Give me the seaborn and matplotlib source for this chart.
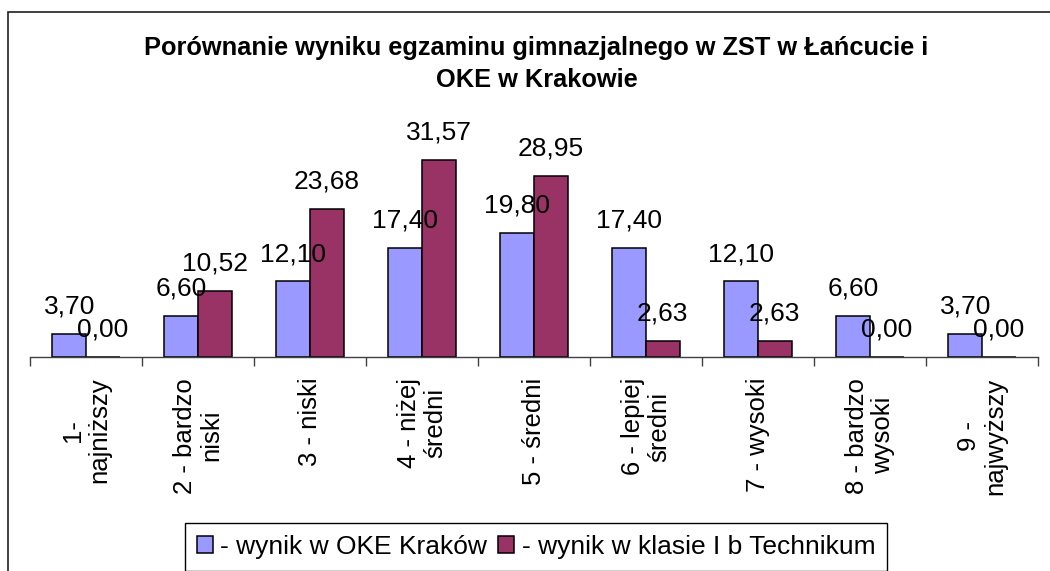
# --- Third-Party Libraries ---
import pandas as pd
import seaborn as sns
import matplotlib.pyplot as plt
from matplotlib.patches import Patch, Rectangle

# Chart data
categories = [
    "1-\nnajniższy", "2 - bardzo\nniski", "3 - niski", "4 - niżej\nśredni",
    "5 - średni", "6 - lepiej\nśredni", "7 - wysoki", "8 - bardzo\nwysoki",
    "9 -\nnajwyższy",
]
oke_krakow = [3.70, 6.60, 12.10, 17.40, 19.80, 17.40, 12.10, 6.60, 3.70]
klasa_ib = [0.00, 10.52, 23.68, 31.57, 28.95, 2.63, 2.63, 0.00, 0.00]
series_names = ["- wynik w OKE Kraków", "- wynik w klasie I b Technikum"]
series_colors = ["#9999FF", "#993366"]
title = "Porównanie wyniku egzaminu gimnazjalnego w ZST w Łańcucie i\nOKE w Krakowie"

df = pd.DataFrame({
    "kategoria": categories * 2,
    "wynik": oke_krakow + klasa_ib,
    "seria": [series_names[0]] * len(categories) + [series_names[1]] * len(categories),
})

sns.set_theme(style="white")
plt.rcParams["font.family"] = ["Liberation Sans", "DejaVu Sans"]
plt.rcParams["text.color"] = "black"
plt.rcParams["xtick.color"] = "black"
plt.rcParams["axes.labelcolor"] = "black"

fig = plt.figure(figsize=(10.5, 5.71), dpi=100)
W, H = 1050, 571

# Outer chart border (right and bottom edges fall outside the picture)
fig.patches.append(Rectangle((8 / W, -0.01), 1.05, 1 - 12 / H + 0.01,
                             transform=fig.transFigure, fill=False,
                             edgecolor="#202020", linewidth=1.2))

ax = fig.add_axes([30 / W, 1 - 357 / H, 1008 / W, 225 / H])
sns.barplot(
    data=df, x="kategoria", y="wynik", hue="seria",
    order=categories, hue_order=series_names, palette=series_colors,
    width=0.6, gap=0, saturation=1, edgecolor="black", linewidth=1.1,
    errorbar=None, legend=False, ax=ax,
)

# Value labels with comma decimals
for cont in ax.containers:
    ax.bar_label(
        cont,
        labels=[f"{v:.2f}".replace(".", ",") for v in cont.datavalues],
        padding=11, fontsize=19, color="black",
    )

ax.set_xlim(-0.5, len(categories) - 0.5)
ax.set_ylim(0, 36)
ax.set_yticks([])
ax.set_xlabel("")
ax.set_ylabel("")
for side in ["top", "right", "left"]:
    ax.spines[side].set_visible(False)
ax.spines["bottom"].set_color("#404040")
ax.spines["bottom"].set_linewidth(1)

# Labels centred in categories, tick marks between them
ax.set_xticks(range(len(categories)))
ax.set_xticklabels(categories, rotation=90, fontsize=18.5, multialignment="center",
                   linespacing=1.15)
ax.set_xticks([i - 0.5 for i in range(len(categories) + 1)], minor=True)
ax.tick_params(axis="x", which="major", length=0, pad=15, colors="black")
ax.tick_params(axis="x", which="minor", bottom=True, length=6.5, width=1,
               color="#404040", direction="out")

fig.text(0.511, 1 - 64 / H, title, ha="center", va="center", color="black",
         fontsize=18.3, fontweight="bold", linespacing=1.42)

handles = [Patch(facecolor=c, edgecolor="black", linewidth=1.1) for c in series_colors]
leg = fig.legend(
    handles, series_names, loc="upper center",
    bbox_to_anchor=(536 / W, 1 - 523 / H), ncol=2, fontsize=19,
    frameon=True, fancybox=False, edgecolor="black", framealpha=1,
    handlelength=0.6, handleheight=0.6, handletextpad=0.3,
    columnspacing=0.4, borderpad=0.45, borderaxespad=0,
)
leg.get_frame().set_linewidth(1)

plt.savefig("out.png", dpi=100)
plt.close()
